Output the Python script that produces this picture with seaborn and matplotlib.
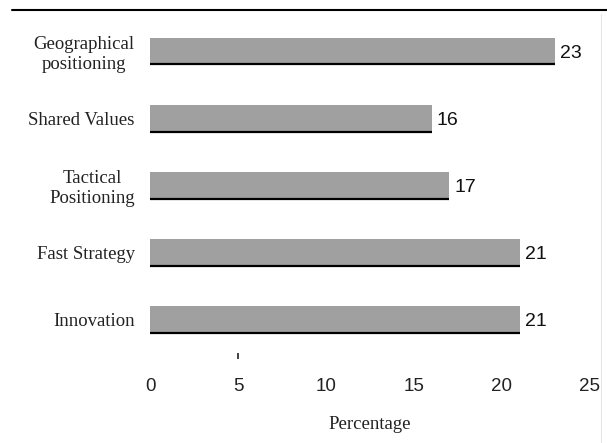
import matplotlib
matplotlib.use("Agg")
import matplotlib.pyplot as plt
from matplotlib.lines import Line2D
import seaborn as sns
import pandas as pd

categories = ["Geographical\npositioning", "Shared Values", "Tactical\nPositioning",
              "Fast Strategy", "Innovation"]
values = [23, 16, 17, 21, 21]
x_ticks = [0, 5, 10, 15, 20, 25]

df = pd.DataFrame({"category": categories, "value": values})

sns.set_style("white")
fig = plt.figure(figsize=(6.07, 4.43), dpi=100)
W, H = 607, 443
left, right, top, bottom = 150, 590, 17.5, 353
ax = fig.add_axes([left / W, 1 - bottom / H, (right - left) / W, (bottom - top) / H])

bar_h = 0.4
sns.barplot(data=df, x="value", y="category", orient="h", color="#a0a0a0",
            width=bar_h, saturation=1, edgecolor="none", ax=ax)

# dark rule along the lower edge of each bar
for i, v in enumerate(values):
    ax.hlines(i + bar_h / 2, 0, v, color="black", linewidth=1.6)
    ax.text(v + 0.28, i + 0.03, str(v), va="center", ha="left", fontsize=14,
            family="Liberation Sans", color="#111111")

ax.set_xlim(0, 25)
ax.set_ylim(4.5, -0.5)
ax.set_xticks(x_ticks)
ax.set_xticklabels([str(t) for t in x_ticks], family="Liberation Sans", fontsize=13.5,
                   color="#222222")
# single short tick mark below the axis at 5
ax.xaxis.remove_overlapping_locs = False
ax.set_xticks([5], minor=True)
ax.tick_params(axis="x", which="major", length=0, pad=18)
ax.tick_params(axis="x", which="minor", bottom=True, direction="out", length=4,
               width=1.2, color="#222222")
ax.tick_params(axis="y", length=0, pad=11)
for lab in ax.get_yticklabels():
    lab.set_family("Liberation Serif")
    lab.set_fontsize(13.5)
    lab.set_color("#222222")
    lab.set_multialignment("center")
ax.set_ylabel("")
ax.set_xlabel("Percentage", family="Liberation Serif", fontsize=13.5, color="#222222",
              labelpad=15)
for s in ax.spines.values():
    s.set_visible(False)

# rule across the top of the figure, faint frame line on the right
fig.add_artist(Line2D([12 / W, 1.0], [1 - 10 / H, 1 - 10 / H], color="black",
                      linewidth=1.5, transform=fig.transFigure))
fig.add_artist(Line2D([601 / W, 601 / W], [0, 1 - 14 / H], color="#e6e6e6",
                      linewidth=0.8, transform=fig.transFigure))

fig.savefig("out.png", dpi=100, facecolor="white")
